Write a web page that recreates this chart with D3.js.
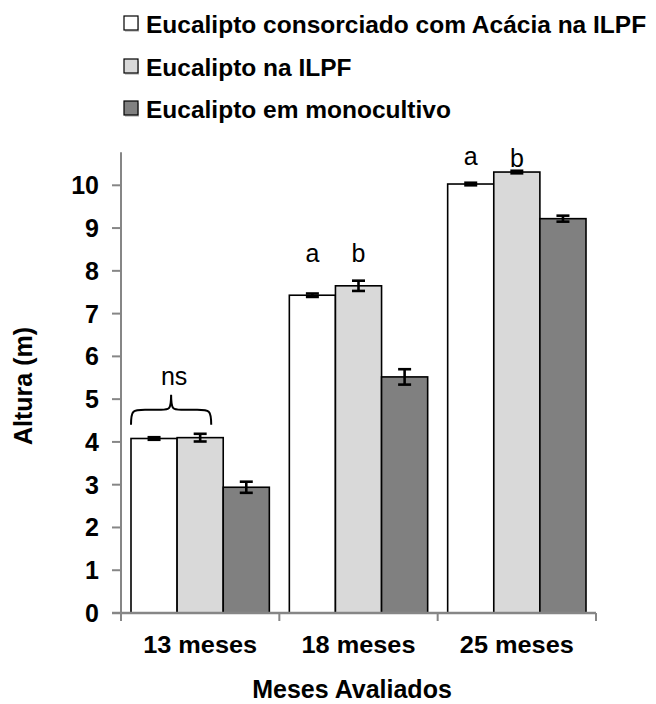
<!DOCTYPE html>
<html><head><meta charset="utf-8">
<script src="https://cdn.jsdelivr.net/npm/d3@7"></script>
<style>body{margin:0;background:#fff}svg{display:block}text{font-family:"Liberation Sans",Arial,sans-serif}</style>
</head><body><svg id="c" width="656" height="704"></svg>
<script>
const categories = ["13 meses", "18 meses", "25 meses"];
const seriesNames = ["Eucalipto consorciado com Acácia na ILPF", "Eucalipto na ILPF", "Eucalipto em monocultivo"];
const seriesColors = ["#FFFFFF", "#D9D9D9", "#808080"];
const valuesConsorciado = [4.08, 7.43, 10.03];
const valuesILPF = [4.10, 7.65, 10.31];
const valuesMono = [2.94, 5.52, 9.22];
const errConsorciado = [0.03, 0.04, 0.03];
const errILPF = [0.09, 0.12, 0.03];
const errMono = [0.13, 0.18, 0.07];
const yTicks = [0,1,2,3,4,5,6,7,8,9,10];
const axisMax = 10.77;
// significance letters: [category, series index, text, y value]
const letters = [
  ["18 meses", 0, "a", 8.2], ["18 meses", 1, "b", 8.2],
  ["25 meses", 0, "a", 10.47], ["25 meses", 1, "b", 10.43]
];
const nsLabel = {category: "13 meses", text: "ns", y: 5.33, braceTop: 5.1, braceBottom: 4.4};

const svg = d3.select("#c");
const M = {left: 121, right: 596, top: 185.3, bottom: 613};
const x0 = d3.scaleBand().domain(categories).range([M.left, M.right]).padding(0);
const x1 = d3.scaleBand().domain(d3.range(3)).range([10, x0.bandwidth() - 10]).padding(0);
const y = d3.scaleLinear().domain([0, 10]).range([M.bottom, M.top]);

const series = [valuesConsorciado, valuesILPF, valuesMono];
const errs = [errConsorciado, errILPF, errMono];
const data = [];
categories.forEach((c, i) => series.forEach((s, j) => data.push({c, j, v: s[i], e: errs[j][i]})));

const axisColor = "#868686";
// y axis
svg.append("line").attr("x1", M.left).attr("x2", M.left).attr("y1", y(0)).attr("y2", y(axisMax)).attr("stroke", axisColor).attr("stroke-width", 2);
const yg = svg.append("g");
yg.selectAll("line").data(yTicks).join("line")
  .attr("x1", M.left - 9).attr("x2", M.left).attr("y1", d => y(d)).attr("y2", d => y(d))
  .attr("stroke", axisColor).attr("stroke-width", 2);
yg.selectAll("text").data(yTicks).join("text")
  .attr("x", 99).attr("y", d => y(d)).attr("dy", "0.36em").attr("text-anchor", "end")
  .attr("font-size", 25).attr("font-weight", "bold").text(d => d);

// bars
svg.append("g").selectAll("rect").data(data).join("rect")
  .attr("x", d => x0(d.c) + x1(d.j)).attr("width", x1.bandwidth())
  .attr("y", d => y(d.v)).attr("height", d => y(0) - y(d.v))
  .attr("fill", d => seriesColors[d.j]).attr("stroke", "#000").attr("stroke-width", 1.6);

// error bars
const eg = svg.append("g").attr("stroke", "#000").attr("stroke-width", 2.6);
data.forEach(d => {
  const cx = x0(d.c) + x1(d.j) + x1.bandwidth() / 2;
  const g = eg.append("g");
  g.append("line").attr("x1", cx).attr("x2", cx).attr("y1", y(d.v + d.e)).attr("y2", y(d.v - d.e));
  [d.v + d.e, d.v - d.e].forEach(v => g.append("line").attr("x1", cx - 6.5).attr("x2", cx + 6.5).attr("y1", y(v)).attr("y2", y(v)));
});

// x axis
svg.append("line").attr("x1", M.left - 9).attr("x2", M.right).attr("y1", y(0)).attr("y2", y(0)).attr("stroke", axisColor).attr("stroke-width", 2.4);
const xTickPos = categories.map(c => x0(c)).concat([M.right]);
svg.append("g").selectAll("line").data(xTickPos).join("line")
  .attr("x1", d => d).attr("x2", d => d).attr("y1", y(0)).attr("y2", y(0) + 8)
  .attr("stroke", axisColor).attr("stroke-width", 2);
svg.append("g").selectAll("text").data(categories).join("text")
  .attr("x", d => x0(d) + x0.bandwidth() / 2).attr("y", 653).attr("text-anchor", "middle")
  .attr("font-size", 24).attr("font-weight", "bold").attr("textLength", 114).attr("lengthAdjust", "spacingAndGlyphs").text(d => d);

// axis titles
svg.append("text").attr("x", 352).attr("y", 698).attr("text-anchor", "middle").attr("font-size", 25).attr("font-weight", "bold").text("Meses Avaliados");
svg.append("text").attr("transform", "translate(32,386) rotate(-90)").attr("text-anchor", "middle").attr("font-size", 25).attr("font-weight", "bold").text("Altura (m)");

// letters
svg.append("g").selectAll("text").data(letters).join("text")
  .attr("x", d => x0(d[0]) + x1(d[1]) + x1.bandwidth() / 2).attr("y", d => y(d[3]))
  .attr("text-anchor", "middle").attr("font-size", 25).attr("font-weight", "normal").text(d => d[2]);

// ns brace
const bx0 = x0(nsLabel.category) + x1(0) + 0;
const bx1 = x0(nsLabel.category) + x1(1) + x1.bandwidth() - 12;
const bxm = (bx0 + bx1) / 2;
const yt = y(nsLabel.braceTop), yb = y(nsLabel.braceBottom), ymid = (yt + yb) / 2;
svg.append("path")
  .attr("d", `M${bx0},${yb} C${bx0},${ymid} ${bx0+2},${ymid} ${bx0+14},${ymid} L${bxm-10},${ymid} C${bxm-2},${ymid} ${bxm},${ymid} ${bxm},${yt} C${bxm},${ymid} ${bxm+2},${ymid} ${bxm+10},${ymid} L${bx1-14},${ymid} C${bx1-2},${ymid} ${bx1},${ymid} ${bx1},${yb}`)
  .attr("fill", "none").attr("stroke", "#000").attr("stroke-width", 2);
svg.append("text").attr("x", bxm + 3).attr("y", y(nsLabel.y)).attr("text-anchor", "middle").attr("font-size", 25).attr("font-weight", "normal").text(nsLabel.text);

// legend
const lg = svg.append("g");
const rowBase = [33, 76, 118];
seriesNames.forEach((n, i) => {
  lg.append("rect").attr("x", 125).attr("y", rowBase[i] - 15).attr("width", 14).attr("height", 14).attr("fill", "#cfcfcf");
  lg.append("rect").attr("x", 124).attr("y", rowBase[i] - 17).attr("width", 14).attr("height", 14)
    .attr("fill", seriesColors[i]).attr("stroke", "#000").attr("stroke-width", 1.2);
  lg.append("text").attr("x", 146).attr("y", rowBase[i]).attr("font-size", 24.5).attr("font-weight", "bold").text(n);
});
</script></body></html>
